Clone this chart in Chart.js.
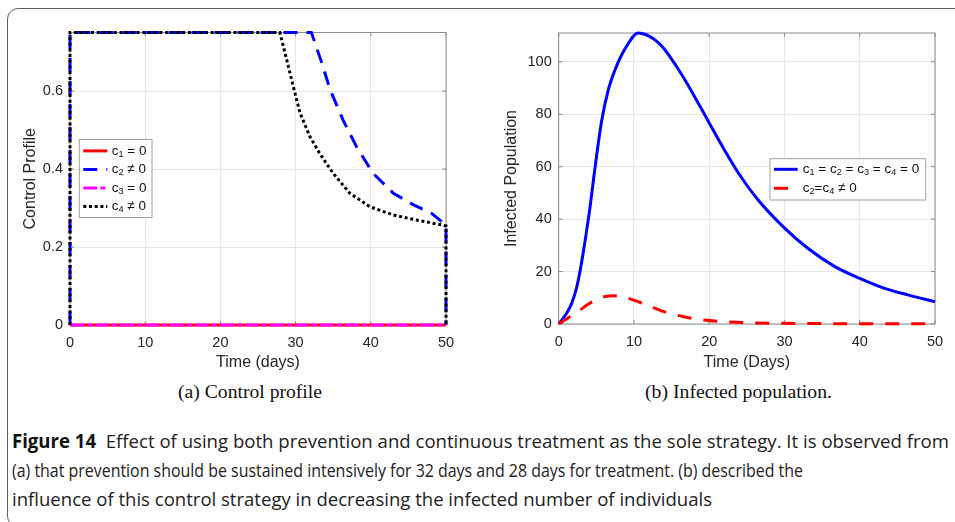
<!DOCTYPE html>
<html>
<head>
<meta charset="utf-8">
<title>Figure 14</title>
<script src="https://cdn.jsdelivr.net/npm/chart.js@4.4.1/dist/chart.umd.min.js"></script>
<style>
  html, body { margin: 0; padding: 0; background: #fff; }
  body { width: 955px; height: 522px; position: relative; overflow: hidden; }
  .frame { position: absolute; left: 7px; top: 8px; width: 1000px; height: 517px; border: 1.5px solid #5f5f5f; border-radius: 11px; }
  canvas { position: absolute; top: 0; }
  #controlChart { left: 0; }
  #infectedChart { left: 475px; }
  .sub { position: absolute; top: 380px; font-family: "Liberation Serif", "Times New Roman", serif; font-size: 19.5px; line-height: 24px; color: #111; }
  .caption { position: absolute; left: 12px; top: 427px; font-family: "Open Sans", sans-serif; font-size: 19px; line-height: 29px; color: #222; }
  .fit { display: inline-block; white-space: nowrap; transform-origin: 0 50%; }
  .caption b { font-weight: 700; color: #111; }
</style>
</head>
<body>
<div class="frame"></div>
<canvas id="controlChart" width="475" height="375"></canvas>
<canvas id="infectedChart" width="480" height="375"></canvas>

<div class="sub" style="left:178px"><span class="fit" data-w="144">(a) Control profile</span></div>
<div class="sub" style="left:645px"><span class="fit" data-w="187">(b) Infected population.</span></div>

<div class="caption">
  <div><span class="fit" data-w="937"><b>Figure 14</b>&nbsp; Effect of using both prevention and continuous treatment as the sole strategy. It is observed from</span></div>
  <div><span class="fit" data-w="791">(a) that prevention should be sustained intensively for 32 days and 28 days for treatment. (b) described the</span></div>
  <div><span class="fit" data-w="700">influence of this control strategy in decreasing the infected number of individuals</span></div>
</div>

<script>
// ---- data ----
const dayTicks = [0, 10, 20, 30, 40, 50];
const controlTicks = [0, 0.2, 0.4, 0.6];
const infectedTicks = [0, 20, 40, 60, 80, 100];

// (a) control profiles
const c1Days = [0, 50];
const c1Vals = [0, 0];
const c2Days = [0, 0, 32.1, 33.5, 34.6, 36.3, 38.1, 40.3, 43.0, 45.7, 48.1, 50, 50];
const c2Vals = [0, 0.75, 0.75, 0.671, 0.603, 0.526, 0.457, 0.389, 0.338, 0.308, 0.286, 0.256, 0];
const c3Days = [0, 50];
const c3Vals = [0, 0];
const c4Days = [0, 0, 27.9, 28.6, 29.7, 30.6, 31.9, 33.2, 35.0, 37.2, 39.9, 43.0, 46.1, 49.6, 50, 50];
const c4Vals = [0, 0.75, 0.75, 0.697, 0.611, 0.543, 0.483, 0.44, 0.389, 0.338, 0.303, 0.282, 0.269, 0.256, 0.254, 0];

// (b) infected population
const noControlDays = [0, 1.06, 1.73, 2.39, 2.83, 3.19, 3.6, 4.16, 4.82, 5.71, 6.59, 7.48, 8.37, 9.25, 10.0, 10.5, 11.2, 12.0, 13.0, 14.0, 15.0, 16.0, 17.0, 18.0, 19.0, 20.0, 22.0, 23.9, 26.5, 30.05, 33.1, 36.7, 40, 43.3, 46.4, 50];
const noControlInfected = [0, 4.1, 7.9, 14.0, 20.0, 26.0, 33.5, 44.5, 59.5, 77.5, 89.3, 96.9, 102.7, 107.0, 110.0, 111.0, 110.7, 109.8, 107.9, 105.0, 101.0, 96.7, 92.0, 87.0, 81.9, 76.7, 66.5, 57.5, 47.3, 36.5, 28.9, 21.9, 17.4, 13.6, 11.1, 8.5];
const controlDays = [0, 1.5, 2.83, 3.9, 5.04, 6.2, 7.25, 8.4, 9.47, 11.7, 13.9, 16.6, 19.3, 21.9, 25, 30, 35, 40, 50];
const controlInfected = [0, 2.8, 5.3, 7.5, 9.3, 10.5, 10.8, 10.4, 9.6, 7.3, 4.8, 2.8, 1.5, 0.9, 0.5, 0.25, 0.15, 0.1, 0.05];

const pts = (xs, ys) => xs.map((x, i) => ({ x: x, y: ys[i] }));

// ---- styling helpers ----
const FONT = '"Liberation Sans", Arial, Helvetica, sans-serif';
Chart.defaults.font.family = FONT;
Chart.defaults.color = '#262626';

// box round the axes with short inward ticks
const axesBox = {
  id: 'axesBox',
  beforeDatasetsDraw(chart) {
    const { ctx, chartArea: a, scales } = chart;
    ctx.save();
    ctx.strokeStyle = '#8c8c8c';
    ctx.lineWidth = 1;
    ctx.strokeRect(a.left, a.top, a.right - a.left, a.bottom - a.top);
    ctx.beginPath();
    scales.x.ticks.forEach(t => {
      const px = scales.x.getPixelForValue(t.value);
      ctx.moveTo(px, a.bottom); ctx.lineTo(px, a.bottom - 4);
      ctx.moveTo(px, a.top); ctx.lineTo(px, a.top + 4);
    });
    scales.y.ticks.forEach(t => {
      const py = scales.y.getPixelForValue(t.value);
      ctx.moveTo(a.left, py); ctx.lineTo(a.left + 4, py);
      ctx.moveTo(a.right, py); ctx.lineTo(a.right - 4, py);
    });
    ctx.stroke();
    ctx.restore();
  }
};

// label text with "_N" turned into a subscript digit
function drawRichLabel(ctx, text, x, y, size) {
  text.split(/_(\d)/).forEach((p, i) => {
    if (!p) return;
    const sub = i % 2 === 1;
    ctx.font = (sub ? size * 0.68 : size) + 'px ' + FONT;
    ctx.fillText(p, x, sub ? y + size * 0.25 : y);
    x += ctx.measureText(p).width;
  });
}

// legend box inside the axes, matlab style
const boxLegend = {
  id: 'boxLegend',
  afterDatasetsDraw(chart, args, o) {
    const { ctx, chartArea: a } = chart;
    const x0 = a.left + o.x, y0 = a.top + o.y;
    ctx.save();
    ctx.fillStyle = '#fff';
    ctx.fillRect(x0, y0, o.width, o.height);
    ctx.strokeStyle = '#a0a0a0';
    ctx.lineWidth = 1;
    ctx.strokeRect(x0, y0, o.width, o.height);
    chart.data.datasets.forEach((ds, i) => {
      const y = y0 + o.firstRow + i * o.rowGap;
      ctx.strokeStyle = ds.borderColor;
      ctx.lineWidth = ds.borderWidth;
      ctx.setLineDash(ds.borderDash || []);
      ctx.beginPath();
      ctx.moveTo(x0 + o.sampleFrom, y);
      ctx.lineTo(x0 + o.sampleTo, y);
      ctx.stroke();
      ctx.setLineDash([]);
      ctx.fillStyle = '#111';
      ctx.textBaseline = 'middle';
      drawRichLabel(ctx, ds.label, x0 + o.textX, y, o.fontSize);
    });
    ctx.restore();
  }
};

function timeAxis(title, height) {
  return {
    type: 'linear', min: 0, max: 50,
    afterBuildTicks: s => { s.ticks = dayTicks.map(v => ({ value: v })); },
    afterFit: s => { s.height = height; s.paddingLeft = 0; s.paddingRight = 0; },
    grid: { color: '#e6e6e6', drawTicks: false },
    border: { display: false },
    ticks: { padding: 9, maxRotation: 0, font: { size: 14.5 } },
    title: { display: true, text: title, font: { size: 16 }, padding: { top: 0, bottom: 2.5 } }
  };
}

function valueAxis(max, tickList, width, title, titlePad) {
  return {
    type: 'linear', min: 0, max: max,
    afterBuildTicks: s => { s.ticks = tickList.map(v => ({ value: v })); },
    afterFit: s => { s.width = width; s.paddingTop = 0; s.paddingBottom = 0; },
    grid: { color: '#e6e6e6', drawTicks: false },
    border: { display: false },
    ticks: { padding: 7, font: { size: 14.5 }, callback: v => String(+v.toFixed(1)) },
    title: { display: true, text: title, font: { size: 16 }, padding: { top: titlePad, bottom: 0 } }
  };
}

// clip a little outside the axes so lines on the edges keep their full width
const baseLine = { pointRadius: 0, fill: false, tension: 0, borderWidth: 3, borderCapStyle: 'butt', clip: 4 };

// (a) Control profile
new Chart(document.getElementById('controlChart'), {
  type: 'line',
  data: {
    datasets: [
      { ...baseLine, label: 'c_1 = 0', data: pts(c1Days, c1Vals), borderColor: '#ff0000', order: 4 },
      { ...baseLine, label: 'c_2 \u2260 0', data: pts(c2Days, c2Vals), borderColor: '#0000ff', borderDash: [14, 9], order: 3 },
      { ...baseLine, label: 'c_3 = 0', data: pts(c3Days, c3Vals), borderColor: '#ff00ff', borderDash: [14, 3, 5, 3], order: 2 },
      { ...baseLine, label: 'c_4 \u2260 0', data: pts(c4Days, c4Vals), borderColor: '#000000', borderDash: [3, 2.7], order: 1 }
    ]
  },
  options: {
    responsive: false, animation: false, devicePixelRatio: 1,
    layout: { padding: { left: 0, right: 29, top: 32.5, bottom: 0 } },
    scales: {
      x: timeAxis('Time (days)', 50),
      y: valueAxis(0.75, controlTicks, 70, 'Control Profile', 21)
    },
    plugins: {
      legend: { display: false },
      tooltip: { enabled: false },
      boxLegend: { x: 9.3, y: 107, width: 72.7, height: 78, firstRow: 11.4, rowGap: 18.5, sampleFrom: 4, sampleTo: 28, textX: 32.4, fontSize: 13.5 }
    }
  },
  plugins: [axesBox, boxLegend]
});

// (b) Infected population
new Chart(document.getElementById('infectedChart'), {
  type: 'line',
  data: {
    datasets: [
      { ...baseLine, label: 'c_1 = c_2 = c_3 = c_4 = 0', data: pts(noControlDays, noControlInfected), borderColor: '#0000ff', cubicInterpolationMode: 'monotone', order: 2 },
      { ...baseLine, label: 'c_2=c_4 \u2260 0', data: pts(controlDays, controlInfected), borderColor: '#ff0000', borderDash: [14, 12], cubicInterpolationMode: 'monotone', order: 1 }
    ]
  },
  options: {
    responsive: false, animation: false, devicePixelRatio: 1,
    layout: { padding: { left: 0, right: 20, top: 33, bottom: 0 } },
    scales: {
      x: timeAxis('Time (Days)', 51),
      y: valueAxis(111, infectedTicks, 83.7, 'Infected Population', 27)
    },
    plugins: {
      legend: { display: false },
      tooltip: { enabled: false },
      boxLegend: { x: 211.3, y: 125.7, width: 155.7, height: 41.3, firstRow: 10.6, rowGap: 19, sampleFrom: 4, sampleTo: 27.7, textX: 32.7, fontSize: 13.5 }
    }
  },
  plugins: [axesBox, boxLegend]
});

// squeeze each text line to its set width
document.querySelectorAll('.fit').forEach(el => {
  const w = el.getBoundingClientRect().width;
  el.style.transform = 'scaleX(' + (+el.dataset.w / w) + ')';
});
</script>
</body>
</html>
